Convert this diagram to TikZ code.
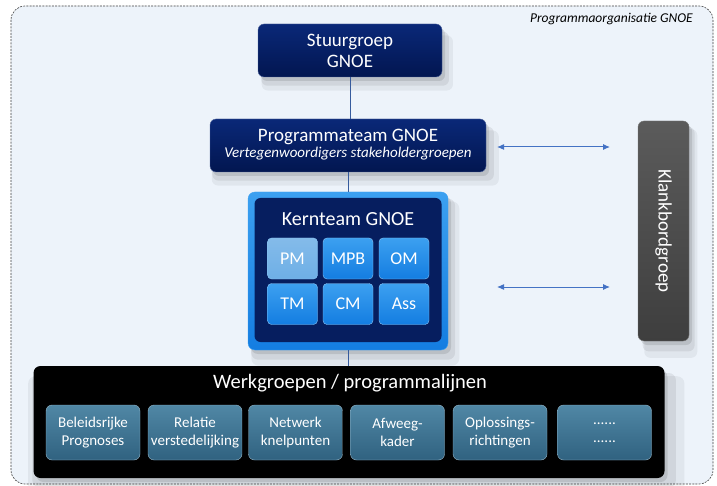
\documentclass[tikz,border=0pt]{standalone}
\usepackage{fontspec}
\setmainfont{Carlito}
\usetikzlibrary{shadows,arrows.meta}
\definecolor{bgc}{RGB}{237,243,250}
\definecolor{navy}{RGB}{10,40,120}
\definecolor{navyd}{RGB}{2,22,80}
\definecolor{kblue}{RGB}{20,125,225}
\definecolor{kbluel}{RGB}{60,160,240}
\definecolor{kinner}{RGB}{6,30,95}
\definecolor{pml}{RGB}{110,175,230}
\definecolor{steel}{RGB}{80,135,165}
\definecolor{steeld}{RGB}{48,98,128}
\definecolor{arr}{RGB}{68,114,196}
\definecolor{klank}{RGB}{62,62,62}
\tikzset{
  shad/.style={
    drop shadow={shadow xshift=3pt,shadow yshift=-4pt,fill=black,opacity=0.10},
    drop shadow={shadow xshift=5pt,shadow yshift=-8pt,shadow scale=1.02,fill=black,opacity=0.07},
    drop shadow={shadow xshift=7pt,shadow yshift=-12pt,shadow scale=1.04,fill=black,opacity=0.05}},
  navybox/.style={rounded corners=6pt, top color=navy, bottom color=navyd, draw=navy!70!white, text=white, align=center, shad},
  kbox/.style={rounded corners=4pt, top color=kbluel, bottom color=kblue, draw=kbluel!60!white, text=white, font=\fontsize{18}{20}\selectfont, minimum width=50pt, minimum height=41pt},
  wbox/.style={rounded corners=6pt, top color=steel, bottom color=steeld, draw=steel!60!white, text=white, align=center, font=\fontsize{15}{18}\selectfont, minimum width=94pt, minimum height=55pt, inner sep=0pt},
  conn/.style={draw=arr!80!black, line width=0.8pt},
  darr/.style={draw=arr, line width=1pt, {Latex[length=7pt,width=6pt]}-{Latex[length=7pt,width=6pt]}}
}
\begin{document}
\begin{tikzpicture}[x=1pt,y=-1pt]
\useasboundingbox (0,0) rectangle (717,486);
\draw[dash pattern=on 2pt off 1.2pt, rounded corners=14pt, fill=bgc, draw=black!75, line width=0.6pt] (11,6) rectangle (713,484);
\node[anchor=east, font=\itshape\fontsize{13.5}{15}\selectfont, inner sep=0pt] (title) at (693,19) {Programmaorganisatie GNOE};

\node[navybox, minimum width=184pt, minimum height=53pt, font=\fontsize{19}{21}\selectfont] (stuur) at (350,50.5) {Stuurgroep\\GNOE};
\node[navybox, minimum width=276pt, minimum height=53pt] (prog) at (348,145.5) {};
\node[text=white, font=\fontsize{19}{21}\selectfont, inner sep=0pt] (progt) at (348,136.5) {Programmateam GNOE};
\node[text=white, font=\itshape\fontsize{15}{17}\selectfont, inner sep=0pt] (progs) at (348,154) {Vertegenwoordigers stakeholdergroepen};

\node[rounded corners=7pt, top color=kbluel, bottom color=kblue, draw=kbluel, minimum width=200pt, minimum height=158pt, shad] (kern) at (348,271) {};
\node[rounded corners=6pt, fill=kinner, minimum width=187pt, minimum height=144pt] (kerni) at (348,270) {};
\node[text=white, font=\fontsize{20}{22}\selectfont] (kernt) at (348,219) {Kernteam GNOE};
\node[kbox, top color=pml!85!white, bottom color=pml] (pm) at (292.5,258.5) {PM};
\node[kbox] (mpb) at (348,258.5) {MPB};
\node[kbox] (om) at (404,258.5) {OM};
\node[kbox] (tm) at (292.5,304) {TM};
\node[kbox] (cm) at (348,304) {CM};
\node[kbox] (ass) at (404,304) {Ass};

\node[rounded corners=7pt, fill=black, minimum width=631pt, minimum height=112pt, shad] (werk) at (349,422) {};
\node[text=white, font=\fontsize{20.5}{24}\selectfont] (werkt) at (350,383) {Werkgroepen / programmalijnen};
\node[wbox] (w1) at (93,432.5) {Beleidsrijke\\Prognoses};
\node[wbox] (w2) at (195,432.5) {Relatie\\verstedelijking};
\node[wbox] (w3) at (295.5,432.5) {Netwerk\\knelpunten};
\node[wbox] (w4) at (397.5,432.5) {Afweeg-\\kader};
\node[wbox] (w5) at (500,432.5) {Oplossings-\\richtingen};
\node[wbox] (w6) at (604.5,432.5) {......\\......};

\node[rounded corners=6pt, top color=klank!85!white, bottom color=klank, draw=klank!70!white, text=white, rotate=-90, minimum width=220pt, minimum height=51pt, font=\fontsize{19}{21}\selectfont, shad] (klank) at (663.5,231) {Klankbordgroep};

\draw[conn] (stuur.south) -- (stuur.south |- prog.north);
\draw[conn] (prog.south) -- (prog.south |- kern.north);
\draw[conn] (kern.south) -- (kern.south |- werk.north);

\coordinate (a1) at (497,147);
\coordinate (b1) at (610,147);
\coordinate (a2) at (497,287);
\coordinate (b2) at (610,287);
\draw[darr] (a1) -- (b1);
\draw[darr] (a2) -- (b2);
\end{tikzpicture}
\end{document}
